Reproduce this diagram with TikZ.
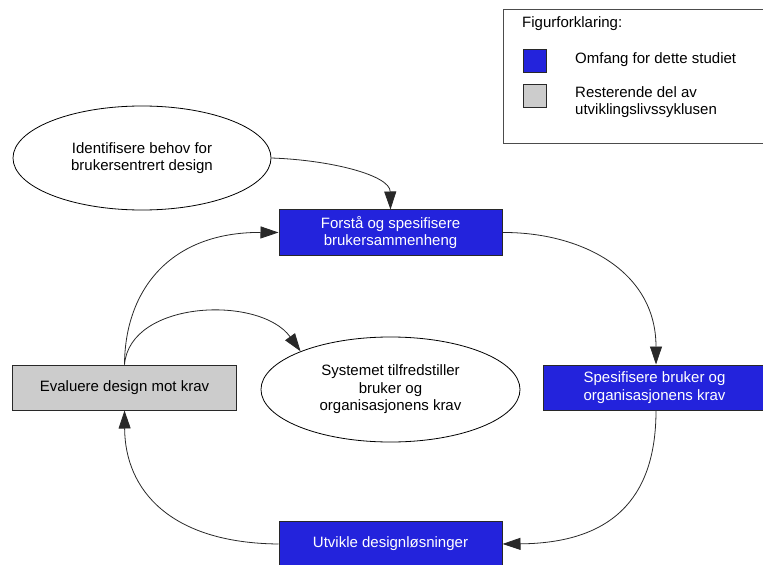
\documentclass[tikz,border=0pt]{standalone}
\usepackage{fontspec}
\setmainfont{Liberation Sans}
\usetikzlibrary{shapes.geometric,arrows.meta}
\definecolor{blueF}{RGB}{35,35,220}
\definecolor{grayF}{RGB}{204,204,204}
\definecolor{edgeC}{RGB}{40,40,40}
\tikzset{
  txt/.style={font=\fontsize{15bp}{17.5bp}\selectfont, align=center, inner sep=0pt},
  procbox/.style={txt, rectangle, draw=edgeC, line width=1bp, minimum width=223bp, minimum height=45bp},
  blueproc/.style={procbox, fill=blueF, text=white},
  grayproc/.style={procbox, fill=grayF, text=black},
  ellnode/.style={txt, ellipse, draw=black, line width=0.8bp, minimum width=258bp, minimum height=104bp},
  arr/.style={draw=edgeC, line width=0.8bp, -{Triangle[length=18bp,width=12bp]}},
  legsq/.style={rectangle, draw=edgeC, line width=1bp, minimum width=23bp, minimum height=23bp, inner sep=0pt},
  legtxt/.style={font=\fontsize{15bp}{17.5bp}\selectfont, align=left, inner sep=0pt, anchor=west}
}
\begin{document}
\begin{tikzpicture}[x=1bp,y=-1bp]
\useasboundingbox (0,0) rectangle (763,565);
% legend
\node[rectangle, draw=black!70, line width=1.3bp, minimum width=264bp, minimum height=134bp, inner sep=0pt, anchor=north west] (leg) at (503,9) {};
\node[legtxt] (legt) at (522,24) {Figurforklaring:};
\node[legsq, fill=blueF] (lsq1) at (534.5,61) {};
\node[legsq, fill=grayF] (lsq2) at (534.5,96.5) {};
\node[legtxt] (lt1) at (575,60) {Omfang for dette studiet};
\node[legtxt] (lt2) at (575,102) {Resterende del av\\utviklingslivssyklusen};
% nodes
\node[ellnode] (id) at (142,158) {Identifisere behov for\\brukersentrert design};
\node[blueproc] (fo) at (390.5,232.5) {Forstå og spesifisere\\brukersammenheng};
\node[blueproc] (sp) at (654.5,387.5) {Spesifisere bruker og\\organisasjonens krav};
\node[blueproc] (ut) at (390.5,544) {Utvikle designløsninger};
\node[grayproc] (ev) at (124.5,387.5) {Evaluere design mot krav};
\node[ellnode, minimum width=259bp, minimum height=105bp] (sy) at (390.5,389.5) {Systemet tilfredstiller\\bruker og\\organisasjonens krav};
% connectors
\draw[arr] (id.east) .. controls (330,160) and (390,175) .. (fo.north);
\draw[arr] (fo.east) .. controls (580,232) and (656,270) .. ([xshift=1.5bp]sp.north);
\draw[arr] ([xshift=1.5bp]sp.south) .. controls (656,490) and (620,543) .. (ut.east);
\draw[arr] (ut.west) .. controls (170,543) and (125,490) .. (ev.south);
\draw[arr] (ev.north) .. controls (125,290) and (170,232) .. (fo.west);
\draw[arr] (ev.north) .. controls (130,300) and (260,295) .. (sy.157);
\end{tikzpicture}
\end{document}
